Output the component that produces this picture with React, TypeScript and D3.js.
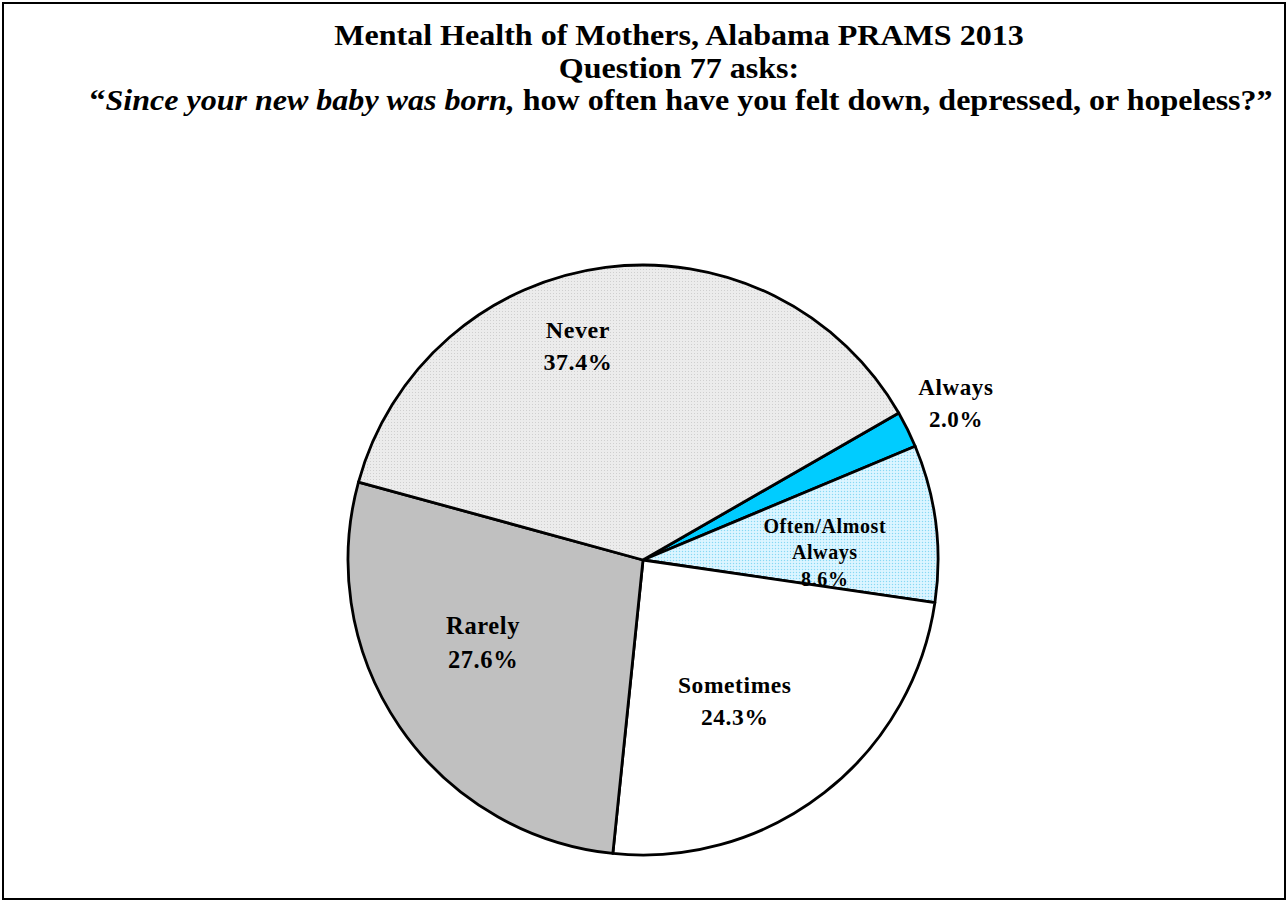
import React from "react";
import * as d3 from "d3";

const categories = ["Always", "Often/Almost Always", "Sometimes", "Rarely", "Never"];
const values = [2.0, 8.6, 24.3, 27.6, 37.4];
const valueLabels = ["2.0%", "8.6%", "24.3%", "27.6%", "37.4%"];
const labelLines = [["Always"], ["Often/Almost", "Always"], ["Sometimes"], ["Rarely"], ["Never"]];
const fills = ["#00ccff", "url(#patBlue)", "#ffffff", "#c0c0c0", "url(#patGray)"];
// label placement: [angle (deg, clockwise from top), radius, fontSize, lineHeight]
const labelPlace: [number, number, number, number][] = [
  [63.4, 350, 23, 32],
  [87.5, 182, 20, 26.5],
  [146.9, 168, 23.5, 32],
  [242.7, 180, 24.5, 34],
  [343.1, 224, 24, 32],
];

const W = 1287, H = 901;
const cx = 643, cy = 560, R = 295;
const startDeg = 60.1;

export default function App() {
  const start = (startDeg * Math.PI) / 180;
  const pie = d3.pie<number>().sort(null).value((d) => d).startAngle(start).endAngle(start + 2 * Math.PI);
  const arcs = pie(values);
  const arc = d3.arc<d3.PieArcDatum<number>>().innerRadius(0).outerRadius(R);
  const font = "'Liberation Serif', 'Times New Roman', serif";
  const sx = 1.105;
  return (
    <svg width={W} height={H} style={{ position: "absolute", left: 0, top: 0, background: "#fff" }} fontFamily={font}>
      <defs>
        <pattern id="patGray" width="3" height="3" patternUnits="userSpaceOnUse">
          <rect width="3" height="3" fill="#ececec" />
          <rect width="1" height="1" fill="#cfcfcf" />
        </pattern>
        <pattern id="patBlue" width="3" height="3" patternUnits="userSpaceOnUse">
          <rect width="3" height="3" fill="#d2f2ff" />
          <rect width="1" height="1" fill="#88d8f2" />
          <rect x="1.5" y="1.5" width="1" height="1" fill="#ffffff" />
        </pattern>
      </defs>
      <rect x={3} y={3} width={W - 5} height={H - 5} fill="#fff" stroke="#000" strokeWidth={2} />
      <g fontWeight="bold" fill="#000" textAnchor="middle" fontSize={29}>
        <text transform={`translate(679,45) scale(${sx},1)`}>Mental Health of Mothers, Alabama PRAMS 2013</text>
        <text transform={`translate(679,78) scale(${sx},1)`}>Question 77 asks:</text>
        <text transform={`translate(681,110) scale(${sx},1)`}>
          “<tspan fontStyle="italic">Since your new baby was born,</tspan> how often have you felt down, depressed, or hopeless?”
        </text>
      </g>
      <g transform={`translate(${cx},${cy})`}>
        {arcs.map((a, i) => (
          <path key={categories[i]} d={arc(a) || ""} fill={fills[i]} stroke="#000" strokeWidth={2.8} strokeLinejoin="round" />
        ))}
        {arcs.map((a, i) => {
          const [deg, r, fs, lh] = labelPlace[i];
          const t = (deg * Math.PI) / 180;
          const x = r * Math.sin(t);
          const y = -r * Math.cos(t);
          const lines = [...labelLines[i], valueLabels[i]];
          const y0 = y - ((lines.length - 1) * lh) / 2 + fs * 0.35;
          return (
            <text key={"l" + i} x={x} y={y0} textAnchor="middle" fontWeight="bold" fontSize={fs} fill="#000" letterSpacing={0.6}>
              {lines.map((ln, k) => (
                <tspan key={k} x={x} y={y0 + k * lh}>{ln}</tspan>
              ))}
            </text>
          );
        })}
      </g>
    </svg>
  );
}
